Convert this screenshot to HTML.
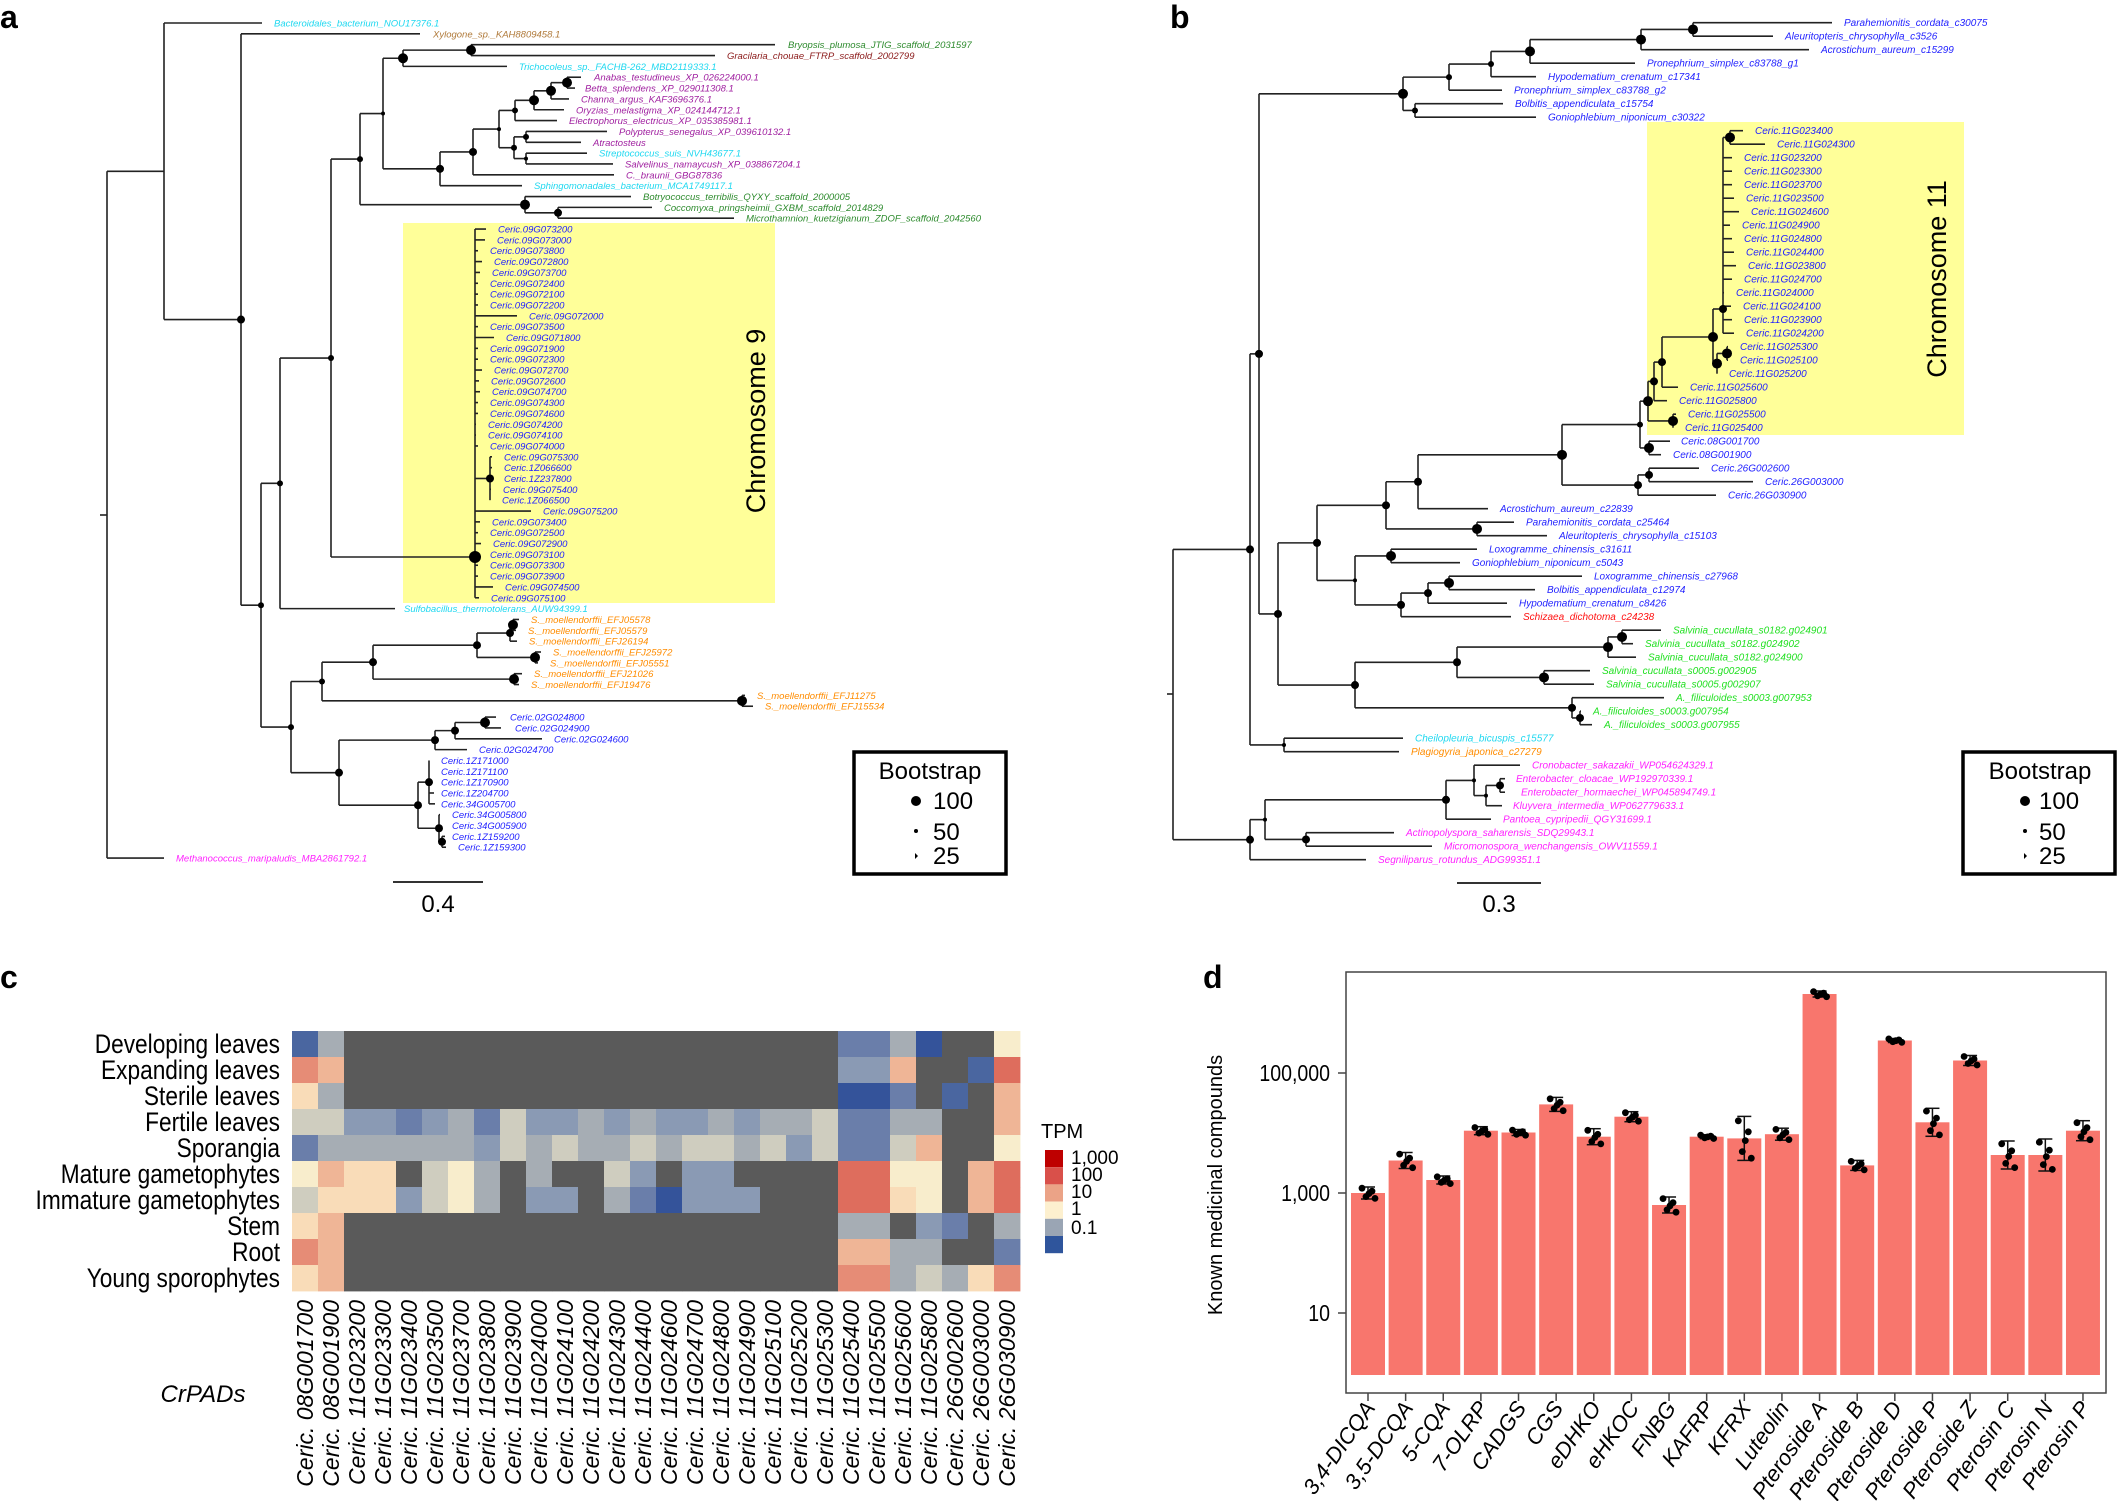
<!DOCTYPE html>
<html><head><meta charset="utf-8"><style>
body{margin:0;background:#fff;}
svg{display:block;font-family:"Liberation Sans",sans-serif;}
.ta text{font-size:9.5px;font-style:italic;}
.tb text{font-size:10px;font-style:italic;}
</style></head><body>
<svg id="s" width="2118" height="1501" viewBox="0 0 2118 1501" xmlns="http://www.w3.org/2000/svg">
<rect width="2118" height="1501" fill="#fff"/>
<rect x="403" y="223" width="372" height="380" fill="#ffff99"/>
<rect x="1647" y="122" width="317" height="313" fill="#ffff99"/>
<g id="lines" stroke="#222" stroke-width="1.6" fill="none"></g>
<g id="dots" fill="#000"></g>
<text x="0" y="28" font-size="32" font-weight="bold">a</text>
<text x="1170" y="28" font-size="32" font-weight="bold">b</text>
<text x="0" y="988" font-size="32" font-weight="bold">c</text>
<text x="1203" y="988" font-size="32" font-weight="bold">d</text>
<text transform="translate(765,421) rotate(-90)" font-size="27" text-anchor="middle">Chromosome 9</text>
<text transform="translate(1946,279) rotate(-90)" font-size="27" text-anchor="middle">Chromosome 11</text>

<g class="ta">
<text x="274" y="26.5" fill="#1fd8f0">Bacteroidales_bacterium_NOU17376.1</text>
<text x="433" y="37.3" fill="#b07a3a">Xylogone_sp._KAH8809458.1</text>
<text x="788" y="48.2" fill="#2e8b2e">Bryopsis_plumosa_JTIG_scaffold_2031597</text>
<text x="727" y="59.0" fill="#8b1a1a">Gracilaria_chouae_FTRP_scaffold_2002799</text>
<text x="519" y="69.9" fill="#1fd8f0">Trichocoleus_sp._FACHB-262_MBD2119333.1</text>
<text x="594" y="80.7" fill="#a020a0">Anabas_testudineus_XP_026224000.1</text>
<text x="585" y="91.6" fill="#a020a0">Betta_splendens_XP_029011308.1</text>
<text x="581" y="102.4" fill="#a020a0">Channa_argus_KAF3696376.1</text>
<text x="576" y="113.3" fill="#a020a0">Oryzias_melastigma_XP_024144712.1</text>
<text x="569" y="124.1" fill="#a020a0">Electrophorus_electricus_XP_035385981.1</text>
<text x="619" y="135.0" fill="#a020a0">Polypterus_senegalus_XP_039610132.1</text>
<text x="593" y="145.8" fill="#a020a0">Atractosteus</text>
<text x="599" y="156.6" fill="#1fd8f0">Streptococcus_suis_NVH43677.1</text>
<text x="625" y="167.5" fill="#a020a0">Salvelinus_namaycush_XP_038867204.1</text>
<text x="626" y="178.3" fill="#a020a0">C._braunii_GBG87836</text>
<text x="534" y="189.2" fill="#1fd8f0">Sphingomonadales_bacterium_MCA1749117.1</text>
<text x="643" y="200.0" fill="#2e8b2e">Botryococcus_terribilis_QYXY_scaffold_2000005</text>
<text x="664" y="210.9" fill="#2e8b2e">Coccomyxa_pringsheimii_GXBM_scaffold_2014829</text>
<text x="746" y="221.7" fill="#2e8b2e">Microthamnion_kuetzigianum_ZDOF_scaffold_2042560</text>
<g fill="#2222ff">
<text x="498" y="232.6">Ceric.09G073200</text>
<text x="497" y="243.4">Ceric.09G073000</text>
<text x="490" y="254.2">Ceric.09G073800</text>
<text x="494" y="265.1">Ceric.09G072800</text>
<text x="492" y="275.9">Ceric.09G073700</text>
<text x="490" y="286.8">Ceric.09G072400</text>
<text x="490" y="297.6">Ceric.09G072100</text>
<text x="490" y="308.5">Ceric.09G072200</text>
<text x="529" y="319.3">Ceric.09G072000</text>
<text x="490" y="330.2">Ceric.09G073500</text>
<text x="506" y="341.0">Ceric.09G071800</text>
<text x="490" y="351.8">Ceric.09G071900</text>
<text x="490" y="362.7">Ceric.09G072300</text>
<text x="494" y="373.5">Ceric.09G072700</text>
<text x="491" y="384.4">Ceric.09G072600</text>
<text x="492" y="395.2">Ceric.09G074700</text>
<text x="490" y="406.1">Ceric.09G074300</text>
<text x="490" y="416.9">Ceric.09G074600</text>
<text x="488" y="427.8">Ceric.09G074200</text>
<text x="488" y="438.6">Ceric.09G074100</text>
<text x="490" y="449.4">Ceric.09G074000</text>
<text x="504" y="460.3">Ceric.09G075300</text>
<text x="504" y="471.1">Ceric.1Z066600</text>
<text x="504" y="482.0">Ceric.1Z237800</text>
<text x="503" y="492.8">Ceric.09G075400</text>
<text x="502" y="503.7">Ceric.1Z066500</text>
<text x="543" y="514.5">Ceric.09G075200</text>
<text x="492" y="525.4">Ceric.09G073400</text>
<text x="490" y="536.2">Ceric.09G072500</text>
<text x="493" y="547.1">Ceric.09G072900</text>
<text x="490" y="557.9">Ceric.09G073100</text>
<text x="490" y="568.7">Ceric.09G073300</text>
<text x="490" y="579.6">Ceric.09G073900</text>
<text x="505" y="590.4">Ceric.09G074500</text>
<text x="491" y="601.3">Ceric.09G075100</text>
</g>
<text x="404" y="612.1" fill="#1fd8f0">Sulfobacillus_thermotolerans_AUW94399.1</text>
<g fill="#ff8c00">
<text x="531" y="623.0">S._moellendorffii_EFJ05578</text>
<text x="528" y="633.8">S._moellendorffii_EFJ05579</text>
<text x="529" y="644.7">S._moellendorffii_EFJ26194</text>
<text x="553" y="655.5">S._moellendorffii_EFJ25972</text>
<text x="550" y="666.3">S._moellendorffii_EFJ05551</text>
<text x="534" y="677.2">S._moellendorffii_EFJ21026</text>
<text x="531" y="688.0">S._moellendorffii_EFJ19476</text>
<text x="757" y="698.9">S._moellendorffii_EFJ11275</text>
<text x="765" y="709.7">S._moellendorffii_EFJ15534</text>
</g>
<g fill="#2222ff">
<text x="510" y="720.6">Ceric.02G024800</text>
<text x="515" y="731.4">Ceric.02G024900</text>
<text x="554" y="742.3">Ceric.02G024600</text>
<text x="479" y="753.1">Ceric.02G024700</text>
<text x="441" y="763.9">Ceric.1Z171000</text>
<text x="441" y="774.8">Ceric.1Z171100</text>
<text x="441" y="785.6">Ceric.1Z170900</text>
<text x="441" y="796.5">Ceric.1Z204700</text>
<text x="441" y="807.3">Ceric.34G005700</text>
<text x="452" y="818.2">Ceric.34G005800</text>
<text x="452" y="829.0">Ceric.34G005900</text>
<text x="452" y="839.9">Ceric.1Z159200</text>
<text x="458" y="850.7">Ceric.1Z159300</text>
</g>
<text x="176" y="861.6" fill="#ff22ff">Methanococcus_maripaludis_MBA2861792.1</text>
</g>

<g class="tb">
<g fill="#2222ff">
<text x="1844" y="26.2">Parahemionitis_cordata_c30075</text>
<text x="1785" y="39.7">Aleuritopteris_chrysophylla_c3526</text>
<text x="1821" y="53.2">Acrostichum_aureum_c15299</text>
<text x="1647" y="66.7">Pronephrium_simplex_c83788_g1</text>
<text x="1548" y="80.2">Hypodematium_crenatum_c17341</text>
<text x="1514" y="93.7">Pronephrium_simplex_c83788_g2</text>
<text x="1515" y="107.2">Bolbitis_appendiculata_c15754</text>
<text x="1548" y="120.7">Goniophlebium_niponicum_c30322</text>
<text x="1755" y="134.2">Ceric.11G023400</text>
<text x="1777" y="147.7">Ceric.11G024300</text>
<text x="1744" y="161.2">Ceric.11G023200</text>
<text x="1744" y="174.7">Ceric.11G023300</text>
<text x="1744" y="188.2">Ceric.11G023700</text>
<text x="1746" y="201.7">Ceric.11G023500</text>
<text x="1751" y="215.2">Ceric.11G024600</text>
<text x="1742" y="228.7">Ceric.11G024900</text>
<text x="1744" y="242.2">Ceric.11G024800</text>
<text x="1746" y="255.7">Ceric.11G024400</text>
<text x="1748" y="269.2">Ceric.11G023800</text>
<text x="1744" y="282.7">Ceric.11G024700</text>
<text x="1736" y="296.2">Ceric.11G024000</text>
<text x="1743" y="309.7">Ceric.11G024100</text>
<text x="1744" y="323.2">Ceric.11G023900</text>
<text x="1746" y="336.7">Ceric.11G024200</text>
<text x="1740" y="350.2">Ceric.11G025300</text>
<text x="1740" y="363.7">Ceric.11G025100</text>
<text x="1729" y="377.2">Ceric.11G025200</text>
<text x="1690" y="390.7">Ceric.11G025600</text>
<text x="1679" y="404.2">Ceric.11G025800</text>
<text x="1688" y="417.7">Ceric.11G025500</text>
<text x="1685" y="431.2">Ceric.11G025400</text>
<text x="1681" y="444.7">Ceric.08G001700</text>
<text x="1673" y="458.2">Ceric.08G001900</text>
<text x="1711" y="471.7">Ceric.26G002600</text>
<text x="1765" y="485.2">Ceric.26G003000</text>
<text x="1728" y="498.7">Ceric.26G030900</text>
<text x="1500" y="512.2">Acrostichum_aureum_c22839</text>
<text x="1526" y="525.7">Parahemionitis_cordata_c25464</text>
<text x="1559" y="539.2">Aleuritopteris_chrysophylla_c15103</text>
<text x="1489" y="552.7">Loxogramme_chinensis_c31611</text>
<text x="1472" y="566.2">Goniophlebium_niponicum_c5043</text>
<text x="1594" y="579.7">Loxogramme_chinensis_c27968</text>
<text x="1547" y="593.2">Bolbitis_appendiculata_c12974</text>
<text x="1519" y="606.7">Hypodematium_crenatum_c8426</text>
</g>
<text x="1523" y="620.2" fill="#ff1111">Schizaea_dichotoma_c24238</text>
<g fill="#22e022">
<text x="1673" y="633.7">Salvinia_cucullata_s0182.g024901</text>
<text x="1645" y="647.2">Salvinia_cucullata_s0182.g024902</text>
<text x="1648" y="660.7">Salvinia_cucullata_s0182.g024900</text>
<text x="1602" y="674.2">Salvinia_cucullata_s0005.g002905</text>
<text x="1606" y="687.7">Salvinia_cucullata_s0005.g002907</text>
<text x="1676" y="701.2">A._filiculoides_s0003.g007953</text>
<text x="1593" y="714.7">A._filiculoides_s0003.g007954</text>
<text x="1604" y="728.2">A._filiculoides_s0003.g007955</text>
</g>
<text x="1415" y="741.7" fill="#1fd8f0">Cheilopleuria_bicuspis_c15577</text>
<text x="1411" y="755.2" fill="#ff8c00">Plagiogyria_japonica_c27279</text>
<g fill="#ff22ff">
<text x="1532" y="768.7">Cronobacter_sakazakii_WP054624329.1</text>
<text x="1516" y="782.2">Enterobacter_cloacae_WP192970339.1</text>
<text x="1521" y="795.7">Enterobacter_hormaechei_WP045894749.1</text>
<text x="1513" y="809.2">Kluyvera_intermedia_WP062779633.1</text>
<text x="1503" y="822.7">Pantoea_cypripedii_QGY31699.1</text>
<text x="1406" y="836.2">Actinopolyspora_saharensis_SDQ29943.1</text>
<text x="1444" y="849.7">Micromonospora_wenchangensis_OWV11559.1</text>
<text x="1378" y="863.2">Segniliparus_rotundus_ADG99351.1</text>
</g>
</g>

<rect x="854" y="752" width="152" height="122" fill="none" stroke="#000" stroke-width="3.5"/>
<text x="930" y="779" font-size="24" text-anchor="middle">Bootstrap</text>
<circle cx="916" cy="801" r="5"/><text x="933" y="809" font-size="24">100</text>
<circle cx="916" cy="831" r="2"/><text x="933" y="840" font-size="24">50</text>
<path d="M915,853 l3,3 l-3,3z"/><text x="933" y="864" font-size="24">25</text>
<line x1="393" y1="882" x2="483" y2="882" stroke="#333" stroke-width="2"/>
<text x="438" y="912" font-size="24" text-anchor="middle">0.4</text>
<rect x="1963" y="752" width="152" height="122" fill="none" stroke="#000" stroke-width="3.5"/>
<text x="2040" y="779" font-size="24" text-anchor="middle">Bootstrap</text>
<circle cx="2025" cy="801" r="5"/><text x="2039" y="809" font-size="24">100</text>
<circle cx="2025" cy="831" r="2"/><text x="2039" y="840" font-size="24">50</text>
<path d="M2024,853 l3,3 l-3,3z"/><text x="2039" y="864" font-size="24">25</text>
<line x1="1457" y1="883" x2="1541" y2="883" stroke="#333" stroke-width="2"/>
<text x="1499" y="912" font-size="24" text-anchor="middle">0.3</text>

<g id="heat"></g>
<g font-size="27" text-anchor="end">
<text transform="translate(280,1053) scale(0.84,1)">Developing leaves</text>
<text transform="translate(280,1079) scale(0.84,1)">Expanding leaves</text>
<text transform="translate(280,1105) scale(0.84,1)">Sterile leaves</text>
<text transform="translate(280,1131) scale(0.84,1)">Fertile leaves</text>
<text transform="translate(280,1157) scale(0.84,1)">Sporangia</text>
<text transform="translate(280,1183) scale(0.84,1)">Mature gametophytes</text>
<text transform="translate(280,1209) scale(0.84,1)">Immature gametophytes</text>
<text transform="translate(280,1235) scale(0.84,1)">Stem</text>
<text transform="translate(280,1261) scale(0.84,1)">Root</text>
<text transform="translate(280,1287) scale(0.84,1)">Young sporophytes</text>
</g>
<g font-size="23" font-style="italic" text-anchor="end">
<text transform="translate(313,1300) rotate(-90)">Ceric. 08G001700</text>
<text transform="translate(339,1300) rotate(-90)">Ceric. 08G001900</text>
<text transform="translate(365,1300) rotate(-90)">Ceric. 11G023200</text>
<text transform="translate(391,1300) rotate(-90)">Ceric. 11G023300</text>
<text transform="translate(417,1300) rotate(-90)">Ceric. 11G023400</text>
<text transform="translate(443,1300) rotate(-90)">Ceric. 11G023500</text>
<text transform="translate(469,1300) rotate(-90)">Ceric. 11G023700</text>
<text transform="translate(495,1300) rotate(-90)">Ceric. 11G023800</text>
<text transform="translate(521,1300) rotate(-90)">Ceric. 11G023900</text>
<text transform="translate(547,1300) rotate(-90)">Ceric. 11G024000</text>
<text transform="translate(573,1300) rotate(-90)">Ceric. 11G024100</text>
<text transform="translate(599,1300) rotate(-90)">Ceric. 11G024200</text>
<text transform="translate(625,1300) rotate(-90)">Ceric. 11G024300</text>
<text transform="translate(651,1300) rotate(-90)">Ceric. 11G024400</text>
<text transform="translate(677,1300) rotate(-90)">Ceric. 11G024600</text>
<text transform="translate(703,1300) rotate(-90)">Ceric. 11G024700</text>
<text transform="translate(729,1300) rotate(-90)">Ceric. 11G024800</text>
<text transform="translate(755,1300) rotate(-90)">Ceric. 11G024900</text>
<text transform="translate(781,1300) rotate(-90)">Ceric. 11G025100</text>
<text transform="translate(807,1300) rotate(-90)">Ceric. 11G025200</text>
<text transform="translate(833,1300) rotate(-90)">Ceric. 11G025300</text>
<text transform="translate(859,1300) rotate(-90)">Ceric. 11G025400</text>
<text transform="translate(885,1300) rotate(-90)">Ceric. 11G025500</text>
<text transform="translate(911,1300) rotate(-90)">Ceric. 11G025600</text>
<text transform="translate(937,1300) rotate(-90)">Ceric. 11G025800</text>
<text transform="translate(963,1300) rotate(-90)">Ceric. 26G002600</text>
<text transform="translate(989,1300) rotate(-90)">Ceric. 26G003000</text>
<text transform="translate(1015,1300) rotate(-90)">Ceric. 26G030900</text>
</g>
<text x="203" y="1402" font-size="24" font-style="italic" text-anchor="middle">CrPADs</text>
<text x="1041" y="1138" font-size="20">TPM</text>
<rect x="1045" y="1150" width="18" height="17.2" fill="#be0000"/>
<rect x="1045" y="1167.2" width="18" height="17.2" fill="#d9504a"/>
<rect x="1045" y="1184.4" width="18" height="17.2" fill="#eba387"/>
<rect x="1045" y="1201.6" width="18" height="17.2" fill="#fdf0cf"/>
<rect x="1045" y="1218.8" width="18" height="17.2" fill="#9aa5b4"/>
<rect x="1045" y="1236" width="18" height="17.2" fill="#2f559c"/>
<g font-size="19">
<text x="1071" y="1164">1,000</text><text x="1071" y="1181">100</text><text x="1071" y="1198">10</text><text x="1071" y="1215">1</text><text x="1071" y="1234">0.1</text>
</g>

<rect x="1346" y="972" width="760" height="421" fill="none" stroke="#444" stroke-width="1.5"/>
<g id="bars"></g>
<g font-size="23" text-anchor="end">
<text transform="translate(1330,1081) scale(0.85,1)">100,000</text><text transform="translate(1330,1201) scale(0.85,1)">1,000</text><text transform="translate(1330,1321) scale(0.85,1)">10</text>
</g>
<line x1="1338" y1="1073" x2="1346" y2="1073" stroke="#444" stroke-width="1.5"/>
<line x1="1338" y1="1193" x2="1346" y2="1193" stroke="#444" stroke-width="1.5"/>
<line x1="1338" y1="1313" x2="1346" y2="1313" stroke="#444" stroke-width="1.5"/>
<text transform="translate(1222,1185) rotate(-90)" font-size="20" text-anchor="middle">Known medicinal compounds</text>
<g font-size="22" font-style="italic" text-anchor="end">
<text transform="translate(1376,1408) rotate(-55)">3,4-DICQA</text>
<text transform="translate(1414,1408) rotate(-55)">3,5-DCQA</text>
<text transform="translate(1451,1408) rotate(-55)">5-CQA</text>
<text transform="translate(1489,1408) rotate(-55)">7-OLRP</text>
<text transform="translate(1527,1408) rotate(-55)">CADGS</text>
<text transform="translate(1564,1408) rotate(-55)">CGS</text>
<text transform="translate(1602,1408) rotate(-55)">eDHKO</text>
<text transform="translate(1640,1408) rotate(-55)">eHKOC</text>
<text transform="translate(1677,1408) rotate(-55)">FNBG</text>
<text transform="translate(1715,1408) rotate(-55)">KAFRP</text>
<text transform="translate(1752,1408) rotate(-55)">KFRX</text>
<text transform="translate(1790,1408) rotate(-55)">Luteolin</text>
<text transform="translate(1828,1408) rotate(-55)">Pteroside A</text>
<text transform="translate(1865,1408) rotate(-55)">Pteroside B</text>
<text transform="translate(1903,1408) rotate(-55)">Pteroside D</text>
<text transform="translate(1941,1408) rotate(-55)">Pteroside P</text>
<text transform="translate(1978,1408) rotate(-55)">Pteroside Z</text>
<text transform="translate(2016,1408) rotate(-55)">Pterosin C</text>
<text transform="translate(2054,1408) rotate(-55)">Pterosin N</text>
<text transform="translate(2091,1408) rotate(-55)">Pterosin P</text>
</g>
</svg>
<script>
var NS="http://www.w3.org/2000/svg";
var L=document.getElementById("lines"),D=document.getElementById("dots");
function el(p,t,a){var e=document.createElementNS(NS,t);for(var k in a)e.setAttribute(k,a[k]);p.appendChild(e);return e;}
function ln(x1,y1,x2,y2){el(L,"line",{x1:x1,y1:y1,x2:x2,y2:y2});}
function n(x,c,r,yo){return{x:x,c:c,r:r||0,yo:yo};}
function lf(i,t){return{i:i,t:t};}
var YF;
function draw(nd,px){
 if(nd.i!==undefined){var y=YF(nd.i);ln(px,y,nd.t,y);return y;}
 var ys=[];for(var k=0;k<nd.c.length;k++)ys.push(draw(nd.c[k],nd.x));
 var mn=Math.min.apply(0,ys),mx=Math.max.apply(0,ys);
 var y=nd.yo!==undefined?nd.yo:(ys[0]+ys[ys.length-1])/2;
 ln(nd.x,Math.min(mn,y),nd.x,Math.max(mx,y));
 if(px!==null)ln(px,y,nd.x,y);
 if(nd.r)el(D,"circle",{cx:nd.x,cy:y,r:nd.r});
 return y;}
YF=function(i){return 23+10.845*i;};
var chr9tips=[486,485,478,482,480,478,478,478,517,478,494,478,478,482,479,480,478,478,476,476,478,492,492,492,491,490,531,480,478,481,478,478,478,493,479];
var c9=[];for(var i=0;i<35;i++)c9.push(lf(19+i,chr9tips[i]));
var sub=n(490,c9.slice(21,26),4);
var c9b=c9.slice(0,21).concat([sub]).concat(c9.slice(26));
var CHR9=n(475,c9b,6,557);
var A=n(107,[
 n(164,[lf(0,262),
  n(241,[lf(1,420),
   n(261,[
    n(280,[
     n(331,[
      n(360,[
       n(383,[
        n(403,[n(471,[lf(2,775),lf(3,715)],5),lf(4,507)],5),
        n(440,[
         n(473,[
          n(499,[
           n(515,[n(534,[n(551,[n(567,[lf(5,581),lf(6,575)],5),lf(7,569)],5),lf(8,564)],5),lf(9,557)],3),
           n(514,[n(526,[lf(10,607),lf(11,581)],3),n(526,[lf(12,587),lf(13,613)],2)],3)
          ],2),
          lf(14,614)],4),
         lf(15,522)],4)
       ],2),
       n(525,[lf(16,631),n(558,[lf(17,652),lf(18,734)],4)],5)
      ],3),
      CHR9],3),
     lf(54,395)],3),
    n(291,[
     n(322,[
      n(373,[
       n(477,[n(510,[n(513,[lf(55,519),lf(56,516)],5),lf(57,517)],4),n(535,[lf(58,541),lf(59,538)],5)],4),
       n(514,[lf(60,522),lf(61,519)],5)],4),
      n(742,[lf(62,745),lf(63,753)],5)],3),
     n(339,[
      n(435,[n(455,[n(485,[lf(64,496),lf(65,501)],5),lf(66,542)],4),lf(67,467)],4),
      n(418,[n(429,[lf(68,429),lf(69,429),lf(70,429),lf(71,434),lf(72,435)],4),n(439,[lf(73,440),lf(74,440),n(442,[lf(75,445),lf(76,446)],4)],4)],4)
     ],4)
    ],3)
   ],3)
  ],4)
 ],0),
 lf(77,164)],0,515);
draw(A,null);ln(100,515,107,515);
YF=function(i){return 22.7+13.5*i;};
var c5t=[1743,1765,1732,1732,1732,1734,1739,1730,1732,1734,1736,1732,1724,1731,1732,1734];
var c5=[n(1730,[lf(8,1743),lf(9,1765)],5)];for(var i=10;i<24;i++)c5.push(lf(i,c5t[i-8]));
var C5=n(1723,c5,4,309);
var C6=n(1717,[n(1727,[lf(24,1728),lf(25,1728)],5),lf(26,1717)],5);
var C4=n(1713,[C5,C6],5,337);
var C3=n(1662,[C4,lf(27,1678)],4);
var C1=n(1654,[C3,lf(28,1667)],4);
var C2=n(1673,[lf(29,1676),lf(30,1673)],5);
var CHR11=n(1648,[C1,C2],5);
var N2=n(1403,[n(1449,[n(1491,[n(1530,[n(1641,[n(1693,[lf(0,1832),lf(1,1773)],5),lf(2,1809)],5),lf(3,1635)],5),lf(4,1536)],3),lf(5,1502)],3),n(1415,[lf(6,1503),lf(7,1536)],3)],5);
var N26=n(1562,[n(1640,[CHR11,n(1649,[lf(31,1670),lf(32,1661)],5)],3),n(1638,[n(1649,[lf(33,1699),lf(34,1753)],4),lf(35,1716)],4)],5);
var N18=n(1386,[n(1418,[N26,lf(36,1488)],4),n(1477,[lf(37,1514),lf(38,1547)],5)],4);
var N19=n(1355,[n(1391,[lf(39,1477),lf(40,1460)],5),n(1401,[n(1428,[n(1449,[lf(41,1582),lf(42,1535)],5),lf(43,1507)],4),lf(44,1511)],4)],2);
var N10=n(1317,[N18,N19],4);
var N11=n(1355,[n(1457,[n(1608,[n(1622,[lf(45,1661),lf(46,1633)],5),lf(47,1636)],5),n(1544,[lf(48,1590),lf(49,1594)],5)],4),n(1572,[lf(50,1664),n(1580,[lf(51,1581),lf(52,1592)],4)],4)],4);
var N3=n(1278,[N10,N11],4);
var R1=n(1250,[n(1259,[N2,N3],4),n(1284,[lf(53,1403),lf(54,1399)],2)],4);
var R2=n(1250,[n(1265,[n(1446,[n(1474,[lf(55,1520),n(1486,[n(1500,[lf(56,1505),lf(57,1505)],4),lf(58,1502)],2)],2),lf(59,1491)],4),n(1306,[lf(60,1394),lf(61,1432)],4)],2),lf(62,1366)],4);
var B=n(1173,[R1,R2],0,694);
draw(B,null);ln(1167,694,1173,694);
var P={D:"#5a5a5a",b1:"#34539a",b2:"#4a66a0",b3:"#6a7eaa",b4:"#8a9ab4",g:"#a6adb4",g2:"#cfcdbf",y:"#f8edcc",p1:"#f9dcb8",p2:"#efb596",r1:"#e68c76",r2:"#de6d5d"};
function row(s){var a=s.split(" "),o=[];a.forEach(function(t){var m=t.match(/^([a-zA-Z]+\d?)(?:\*(\d+))?$/);var k=m[1],c=m[2]?+m[2]:1;for(var j=0;j<c;j++)o.push(k);});return o;}
var R=[
"b2 g D*19 b3 b3 g b1 D D y",
"r1 p2 D*19 b4 b4 p2 D D b2 r2",
"p1 g D*19 b1 b1 b3 D b2 D p2",
"g2 g2 b4 b4 b3 b4 g b3 g2 b4 b4 g b4 g b4 b4 g b4 g g g2 b3 b3 g g D D p2",
"b3 g g g g g g b4 g2 g g2 g g g2 g g2 g2 g g2 b4 g2 b3 b3 g2 p2 D D y",
"y p2 p1 p1 D g2 y g D g D D g2 b4 D b4 b4 D D D D r2 r2 y y D p2 r2",
"g2 p1 p1 p1 b4 g2 y g D b4 b4 D g b3 b1 b4 b4 b4 D D D r2 r2 p1 y D p2 r2",
"p1 p2 D*19 g g D b4 b3 D g",
"r1 p2 D*19 p2 p2 g g D D b3",
"p1 p2 D*19 r1 r1 g g2 g p1 r1"];
var H=document.getElementById("heat");
R.forEach(function(s,r){row(s).forEach(function(k,c){el(H,"rect",{x:292+26*c,y:1031+26*r,width:26.4,height:26.4,fill:P[k]});});});
var tops=[1193,1160.5,1180,1130.7,1132.5,1104.4,1136.7,1116.7,1205,1136.7,1138.4,1134.2,994,1165.4,1040.5,1122.3,1060.5,1155,1155,1130.7];
var err=[6,8,4,4,3,7,8,5,8,2,22,6,3,5,2,14,5,14,16,10];
var G=document.getElementById("bars");
tops.forEach(function(t,i){var cx=1368+37.63*i;
 el(G,"rect",{x:cx-17,y:t,width:34,height:1375-t,fill:"#f8766d"});
 el(G,"line",{x1:cx,y1:t-err[i],x2:cx,y2:t+err[i],stroke:"#111","stroke-width":1.5});
 el(G,"line",{x1:cx-7,y1:t-err[i],x2:cx+7,y2:t-err[i],stroke:"#111","stroke-width":1.5});
 el(G,"line",{x1:cx-7,y1:t+err[i],x2:cx+7,y2:t+err[i],stroke:"#111","stroke-width":1.5});
 var off=[[-6,-0.8],[-2,0.6],[4,-0.3],[7,0.9],[1,0.1]];
 off.forEach(function(o){el(G,"circle",{cx:cx+o[0],cy:t+o[1]*err[i],r:3.4,fill:"#000"});});
 el(G,"line",{x1:cx,y1:1393,x2:cx,y2:1401,stroke:"#444","stroke-width":1.5});
});
</script>
</body></html>
